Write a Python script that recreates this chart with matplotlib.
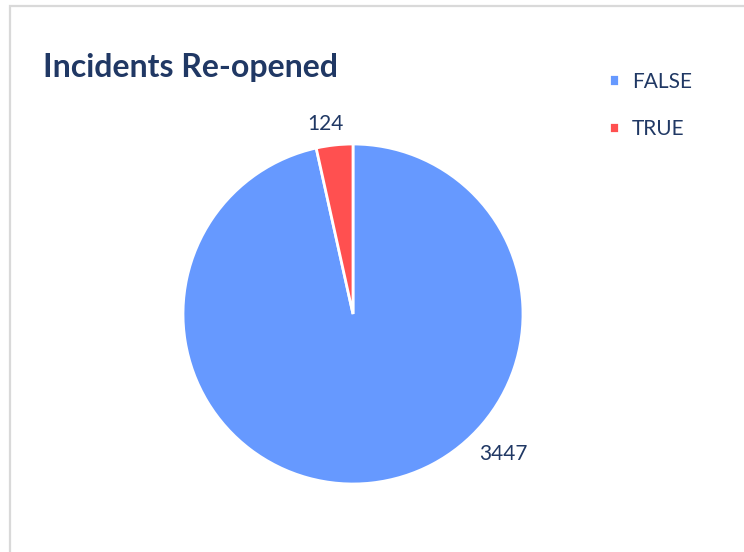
import matplotlib
matplotlib.use("Agg")
import matplotlib.pyplot as plt
import numpy as np
from matplotlib.patches import Rectangle

categories = ["FALSE", "TRUE"]
counts = [3447, 124]
colors = ["#6699FF", "#FF5050"]
TEXT = "#203864"

plt.rcParams["font.family"] = ["Lato", "DejaVu Sans"]

fig = plt.figure(figsize=(7.44, 5.52), dpi=100)
fig.patch.set_facecolor("white")

# light grey chart frame, cut off at right and bottom
fig.patches.append(Rectangle((9.5 / 744, -0.1), 1.2, 1 - 6 / 552 + 0.1,
                             transform=fig.transFigure, fill=False,
                             edgecolor="#D9D9D9", linewidth=1.6))

ax = fig.add_axes([183 / 744, (552 - 314 - 170) / 552, 340 / 744, 340 / 552])
wedges, _ = ax.pie(counts, colors=colors, startangle=90, counterclock=False,
                   radius=1, wedgeprops=dict(edgecolor="white", linewidth=2))
ax.set_xlim(-1, 1)
ax.set_ylim(-1, 1)
ax.set_axis_off()

# value labels placed outside the slices
label_pos = {"FALSE": (-43.0, 1.21), "TRUE": (98.3, 1.13)}
for cat, val in zip(categories, counts):
    ang, r = label_pos[cat]
    t = np.deg2rad(ang)
    ax.text(r * np.cos(t), r * np.sin(t), str(val), ha="center", va="center",
            fontsize=15, color=TEXT)

fig.text(43 / 744, 1 - 77 / 552, "Incidents Re-opened", fontsize=23,
         fontweight="bold", color=TEXT, va="baseline", ha="left")

fig.legend(wedges, categories, loc="upper left", bbox_to_anchor=(590 / 744, 1 - 53 / 552),
           frameon=False, fontsize=15, labelcolor=TEXT, handlelength=0.5,
           handleheight=0.5, handletextpad=0.6, labelspacing=1.3)

fig.savefig("out.png", dpi=100, facecolor="white")
